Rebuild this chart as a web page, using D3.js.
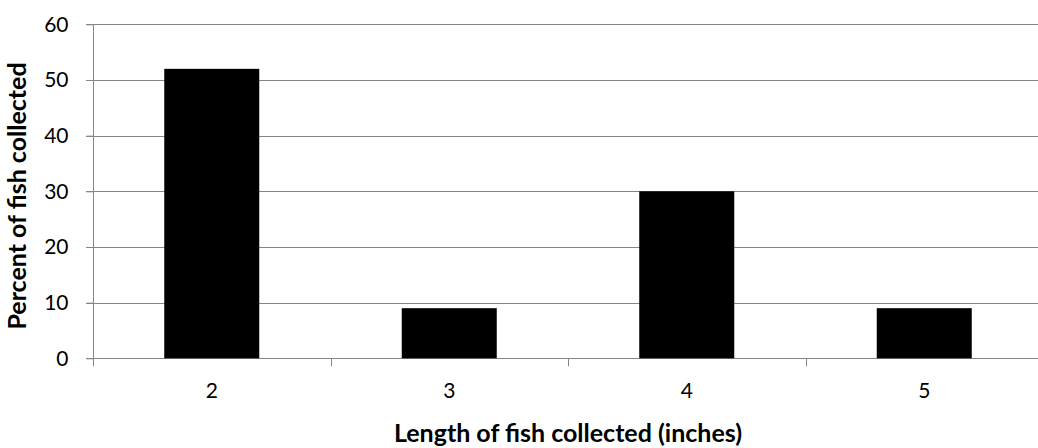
<!DOCTYPE html>
<html><head><meta charset="utf-8">
<script src="https://cdn.jsdelivr.net/npm/d3@7"></script>
<style>body{margin:0;background:#fff}svg{display:block}text{font-family:Lato,"Open Sans",sans-serif}</style>
</head><body>
<svg id="c" width="1038" height="448"></svg>
<script>
const categories = ["2","3","4","5"];
const values = [52, 9, 30, 9];
const yTicks = [0,10,20,30,40,50,60];
const xTitle = "Length of fish collected (inches)";
const yTitle = "Percent of fish collected";

(function(){
const svg = d3.select("#c");
const left = 93, right = 1043, plotTop = 24.3, bottom = 358.3;
const x = d3.scaleBand().domain(categories).range([left, right]).paddingInner(0.6).paddingOuter(0.3);
const y = d3.scaleLinear().domain([0,60]).range([bottom, plotTop]);
const grid = "#868686";

// gridlines
svg.append("g").selectAll("line").data(yTicks).join("line")
  .attr("x1", 86).attr("x2", 1038)
  .attr("y1", d => Math.round(y(d))+0.5).attr("y2", d => Math.round(y(d))+0.5)
  .attr("stroke", grid).attr("stroke-width", 1);

// bars
svg.append("g").selectAll("rect").data(values).join("rect")
  .attr("x", (d,i) => x(categories[i])).attr("width", x.bandwidth())
  .attr("y", d => y(d)).attr("height", d => y(0) - y(d))
  .attr("fill", "#000");

// y axis
const ya = svg.append("g").attr("transform", `translate(${left+0.5},0)`)
  .call(d3.axisLeft(y).tickValues(yTicks).tickSize(7).tickPadding(18).tickFormat(d3.format("d")));
ya.select(".domain").attr("stroke", grid).attr("d", `M0,${plotTop}V${bottom+7}`);
ya.selectAll(".tick line").attr("stroke", grid);
ya.selectAll("text").attr("font-size", 21).attr("fill", "#000").attr("font-family", "Lato");

// x axis
const xb = d3.scaleBand().domain(categories).range([left, right]);
const xa = svg.append("g").attr("transform", `translate(0,${Math.round(bottom)+0.5})`)
  .call(d3.axisBottom(x).tickSize(0).tickPadding(25));
xa.select(".domain").remove();
xa.selectAll("text").attr("font-size", 21).attr("fill", "#000").attr("font-family", "Lato");
svg.append("g").selectAll("line").data(categories.concat(["end"])).join("line")
  .attr("x1", (d,i) => Math.round(left + i*xb.step())+0.5).attr("x2", (d,i) => Math.round(left + i*xb.step())+0.5)
  .attr("y1", bottom).attr("y2", bottom+8).attr("stroke", grid);

// titles
svg.append("text").attr("x", 568).attr("y", 442).attr("text-anchor", "middle")
  .attr("font-size", 25).attr("font-weight", "bold").text(xTitle);
svg.append("text").attr("transform", "translate(26,196) rotate(-90)").attr("text-anchor", "middle")
  .attr("font-size", 25).attr("font-weight", "bold").text(yTitle);
})();
</script>
</body></html>
